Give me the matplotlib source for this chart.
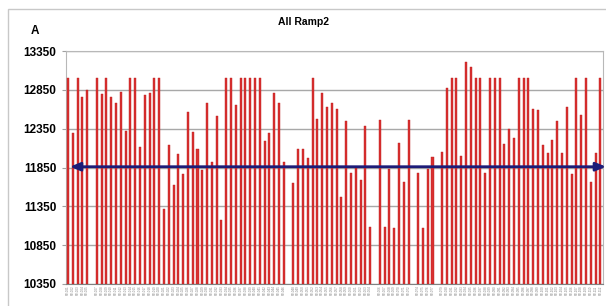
from matplotlib import pyplot as plt
from matplotlib.patches import Rectangle
import numpy as np

plt.rcParams['font.family'] = ['Liberation Sans', 'DejaVu Sans']

# bar values per slot (None = empty slot)
values = [
    13000, 12292, 13000, 12763, 12849, None, 13000, 12793, 13000, 12763,
    12686, 12823, 12317, 13000, 13000, 12112, 12789, 12814, 13000, 13000,
    11315, 12146, 11628, 12018, 11761, 12566, 12309, 12086, 11812, 12677,
    11915, 12515, 11178, 13000, 13000, 12652, 13000, 13000, 13000, 13000,
    13000, 12193, 12292, 12806, 12677, 11923, None, 11649, 12086, 12086,
    11966, 13000, 12480, 12815, 12630, 12686, 12609, 11465, 12450, 11778,
    11838, 11692, 12386, 11079, None, 12463, 11079, 11829, 11067, 12163,
    11658, 12463, None, 11773, 11067, 11829, 11979, None, 12052, 12879,
    13000, 13000, 11992, 13209, 13140, 13000, 13000, 11778, 13000, 13000,
    13000, 12159, 12343, 12232, 13000, 13000, 13000, 12609, 12587, 12138,
    12043, 12202, 12446, 12035, 12635, 11765, 13000, 12532, 13000, 11658,
    12043, 13000,
]
labels = [f'R2-{i + 1:03d}' if v is not None else '' for i, v in enumerate(values)]
average = 11860
yticks = [10350, 10850, 11350, 11850, 12350, 12850, 13350]

x = np.arange(len(values))
h = np.array([np.nan if v is None else v for v in values], dtype=float)

fig = plt.figure(figsize=(6.06, 3.06), dpi=100)
fig.patches.append(Rectangle((8 / 606, -0.01), 1.0, 1 - 9 / 306 + 0.01,
                             transform=fig.transFigure, fill=False,
                             edgecolor='#c8c8c8', lw=1))
ax = fig.add_axes([66 / 606, 22 / 306, 537 / 606, 233 / 306])

ax.bar(x, h - 10350, bottom=10350, width=0.42, color='#d83030',
       edgecolor='#c02020', lw=0.3, zorder=3)

ax.set_xlim(-0.42, 111.55)
ax.set_ylim(10350, 13350)
ax.set_yticks(yticks)
ax.set_yticklabels([str(t) for t in yticks], fontsize=8.5, fontweight='bold')
ax.grid(axis='y', color='#a8a8a8', lw=1, zorder=1)
ax.set_xticks(x)
ax.set_xticklabels(labels, rotation=90, fontsize=2.2, color='#808080')
ax.tick_params(axis='x', length=0, pad=1)
ax.tick_params(axis='y', length=3, color='#a0a0a0', pad=4)
for s in ['top', 'right', 'left']:
    ax.spines[s].set_color('#b8b8b8')
ax.spines['bottom'].set_color('#808080')

ax.annotate('', xy=(4 / 537, average), xytext=(540 / 537, average),
            xycoords=('axes fraction', 'data'),
            textcoords=('axes fraction', 'data'),
            arrowprops=dict(arrowstyle='<|-|>,head_length=0.6,head_width=0.25',
                            color='#1c1c78', lw=2, shrinkA=0, shrinkB=0),
            annotation_clip=False, zorder=5)

fig.text(0.5, 1 - 22 / 306, 'All Ramp2', ha='center', va='center',
         fontsize=7.5, fontweight='bold')
fig.text(35 / 606, 1 - 31 / 306, 'A', ha='center', va='center',
         fontsize=8.5, fontweight='bold')

fig.savefig('out.png', dpi=100)
